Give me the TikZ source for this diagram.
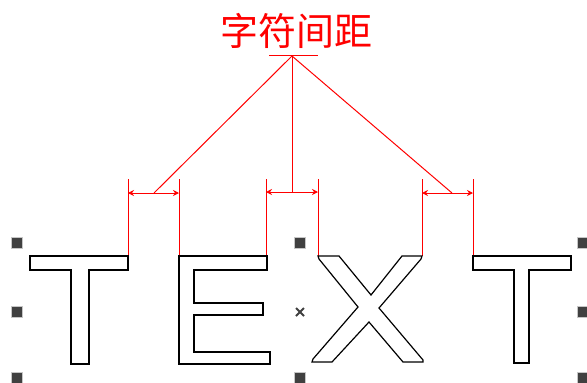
\documentclass[tikz,border=0pt]{standalone}
\usepackage{fontspec}
\newfontfamily\cjkfont{Noto Sans CJK SC}
\usetikzlibrary{arrows.meta}
\definecolor{handlegray}{HTML}{404040}
\definecolor{redline}{HTML}{FF0000}
\tikzset{
  glyph/.style={draw=black, line width=1.2pt, line join=miter, fill=white},
  guide/.style={draw=redline, line width=1pt},
  gap/.style={draw=redline, line width=1pt, {Stealth[length=6pt,width=6pt]}-{Stealth[length=6pt,width=6pt]}},
  leader/.style={draw=redline, line width=1pt},
  handle/.style={draw=gray!45, line width=0.6pt, fill=handlegray, minimum size=11pt, inner sep=0pt, outer sep=0pt},
  title/.style={text=redline, font=\cjkfont\fontsize{38}{40}\selectfont, inner sep=0pt}
}
\begin{document}
\begin{tikzpicture}[x=1pt,y=-1pt]
\useasboundingbox (0,0) rectangle (587,383);
% title
\node[title] (title) at (296,31) {字符间距};
\coordinate (barL) at (269,55.5);
\coordinate (barR) at (318,55.5);
\coordinate (apex) at (292,56);
\draw[leader, line width=1.3pt] (barL) -- (barR);
% guides
\foreach \n/\x in {a/128,b/179,c/266,d/318,e/422,f/473}{
  \coordinate (\n top) at (\x,179);
  \coordinate (\n bot) at (\x,256);
  \draw[guide] (\n top) -- (\n bot);
}
% gap arrows
\coordinate (g1L) at (128,193); \coordinate (g1R) at (179,193);
\coordinate (g2L) at (266,192); \coordinate (g2R) at (318,192);
\coordinate (g3L) at (422,193); \coordinate (g3R) at (473,193);
\draw[gap] (g1L) -- (g1R);
\draw[gap] (g2L) -- (g2R);
\draw[gap] (g3L) -- (g3R);
% leaders
\coordinate (m1) at (154,193);
\coordinate (m2) at (292,192);
\coordinate (m3) at (452,193);
\draw[leader] (apex) -- (m1);
\draw[leader] (apex) -- (m2);
\draw[leader] (apex) -- (m3);
% letter T
\draw[glyph] (30,256) -- (128,256) -- (128,270) -- (89,270) -- (89,364) -- (71,364) -- (71,270) -- (30,270) -- cycle;
% letter E
\draw[glyph] (179,256) -- (267,256) -- (267,270) -- (194,270) -- (194,303) -- (263,303) -- (263,315) -- (194,315) -- (194,352) -- (270,352) -- (270,364) -- (179,364) -- cycle;
% letter X
\draw[glyph] (318,256) -- (339,256) -- (371,295) -- (402,256) -- (422,256) -- (421,259) -- (379,308) -- (423,360) -- (423,362) -- (403,362) -- (369,322) -- (332,362) -- (312,362) -- (313,359) -- (358,307) -- (319,259) -- cycle;
% letter T
\draw[glyph] (473,256) -- (571,256) -- (571,270) -- (529,270) -- (529,363) -- (514,363) -- (514,270) -- (473,270) -- cycle;
% selection handles
\node[handle] (h1) at (17,243) {};
\node[handle] (h2) at (17,312) {};
\node[handle] (h3) at (17,378) {};
\node[handle] (h4) at (300,243) {};
\node[handle] (h5) at (300,378) {};
\node[handle] (h6) at (583,243) {};
\node[handle] (h7) at (583,312) {};
\node[handle] (h8) at (583,378) {};
% centre mark
\coordinate (cx) at (300,312);
\draw[handlegray, line width=1.8pt] ([shift={(-4,-4)}]cx) -- ([shift={(4,4)}]cx);
\draw[handlegray, line width=1.8pt] ([shift={(-4,4)}]cx) -- ([shift={(4,-4)}]cx);
\end{tikzpicture}
\end{document}
